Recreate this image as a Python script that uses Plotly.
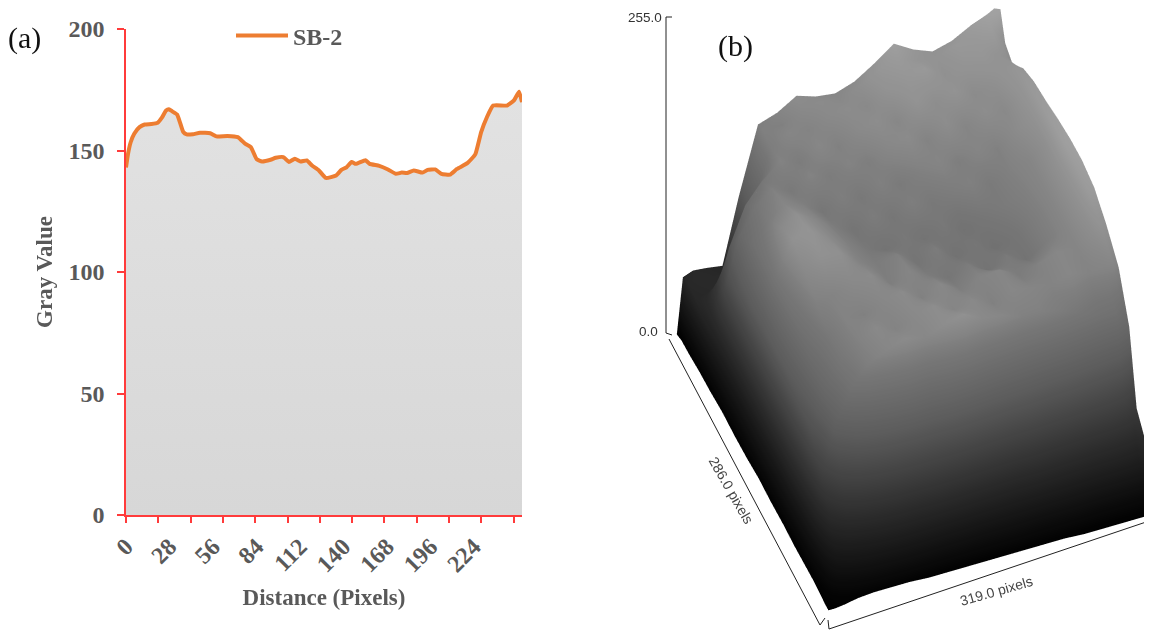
import plotly.graph_objects as go

# Panel (a): gray-value profile
dist = [0,1.3,3,5.3,8.7,12,16.4,20.4,23.1,25.8,27.6,29.8,32.9,34.7,36.9,39.1,43.1,47.6,54.2,58.2,65.3,72,76.9,80.4,84.2,87.6,93.1,96.4,101.3,104.9,108.7,112.4,116.4,119.8,124.2,128.7,135.3,138.7,142,145.3,148,154.2,156.9,163.1,168.7,173.8,177.6,181,185.3,190.9,194.2,199.1,203.1,208.7,213.1,219.8,224.9,228.7,232.4,236.4,245.3,249.8,253.1,255]
gray = [143,148.6,153.4,156.9,159.6,160.7,160.9,161.4,163.5,166.5,167,166.1,164.8,161.7,157.6,156.6,156.7,157.3,157.1,155.8,156,155.5,152.7,151.4,146.4,145.5,146.2,147,147.3,145.3,146.6,145.5,145.9,143.8,141.8,138.7,139.7,142,143.1,145.3,144.5,146,144.5,143.7,142.2,140.4,140.9,140.7,141.8,140.9,142,142.2,140.4,140.1,142.4,144.8,148.4,157.6,163.7,168.5,168.5,170.6,174.2,169.9]
x_labels = [0,28,56,84,112,140,168,196,224]
y_labels = [0,50,100,150,200]
series_name = "SB-2"

# Panel (b): surface heights (gray level) read from the 3D view
surf_x = [0,6,16,29,45,61,80,99,118,137,156,175,195,214,233,252,271,290,306,313,319]
surf_y = [0,9,23,43,63,86,109,132,154,177,200,223,243,257,272,280,286]
surf_z = [
 [0,44,47,46,44,95,148,153,162,157,155,160,170,181,172,166,170,178,183,186,184],
 [2,46,48,47,45,98,150,150,158,160,157,163,172,176,170,168,174,174,178,172,164],
 [2,45,46,48,62,105,147,155,152,158,161,158,168,172,175,165,170,172,168,165,158],
 [3,40,60,95,125,140,152,146,156,150,158,162,156,168,162,168,160,164,170,172,170],
 [3,35,85,120,140,150,143,152,146,152,148,156,160,152,162,154,162,158,168,174,175],
 [4,32,95,130,146,155,150,140,148,142,150,144,150,154,148,154,150,160,166,176,177],
 [3,30,100,135,158,165,156,146,138,146,140,148,142,146,150,144,150,154,164,178,180],
 [3,30,100,140,166,170,160,150,142,136,142,136,142,134,140,144,148,154,166,180,182],
 [4,30,102,136,158,166,165,152,146,150,138,146,134,140,132,138,146,154,166,178,182],
 [3,28,100,130,150,152,158,160,148,154,146,140,146,136,144,136,146,154,165,176,178],
 [3,28,96,124,142,152,150,156,160,150,157,148,153,155,146,151,156,154,162,168,166],
 [2,24,88,118,140,150,158,152,158,162,154,158,150,156,154,152,156,152,154,156,150],
 [2,20,70,108,133,148,155,160,156,162,166,158,156,150,150,146,140,134,132,124,118],
 [2,14,48,72,90,100,108,112,110,114,112,108,104,102,98,96,92,88,82,74,64],
 [1,8,22,32,40,46,50,50,52,50,48,46,44,46,44,42,40,40,38,36,52],
 [0,3,8,14,18,20,22,22,20,20,18,18,18,16,16,16,14,14,14,14,20],
 [0,0,1,3,4,4,4,3,3,3,3,3,3,3,3,2,2,2,2,2,2],
]

# the page puts the figure 8 px in from the top-left corner
OFF = 8
W, H = 1152 - OFF, 630 - OFF
def px(v): return (v - OFF) / W
def py(v): return 1 - (v - OFF) / H

SERIF = "Liberation Serif"
SANS = "Liberation Sans"
TXT = "#595959"
RED = "#FF3B3B"

fig = go.Figure()
fig.add_trace(go.Scatter(
    x=dist, y=gray, mode="none", showlegend=False, fill="tozeroy",
    fillgradient=dict(type="vertical", colorscale=[[0, "#D7D7D7"], [1, "#E2E2E2"]]),
    xaxis="x", yaxis="y", hoverinfo="skip",
))
fig.add_trace(go.Scatter(
    x=dist, y=gray, mode="lines", name=series_name,
    line=dict(color="#ED7D31", width=4, shape="spline", smoothing=0.4),
    xaxis="x", yaxis="y", hoverinfo="skip",
))
fig.add_trace(go.Surface(
    x=surf_x, y=surf_y, z=surf_z, showscale=False, cmin=0, cmax=255,
    colorscale=[[0, "#000000"], [0.2, "#2C2C2C"], [0.4, "#5C5C5C"], [0.55, "#767676"], [0.63, "#8C8C8C"], [0.75, "#A8A8A8"], [1, "#D0D0D0"]],
    lighting=dict(ambient=1, diffuse=0, specular=0, roughness=1, fresnel=0),
    hoverinfo="skip", scene="scene",
))

tick_font = dict(family=SERIF, size=24, color=TXT, weight=700)
title_font = dict(family=SERIF, size=23, color=TXT, weight=700)
fig.update_layout(
    width=W, height=H, autosize=False, margin=dict(l=0, r=0, t=0, b=0, autoexpand=False),
    paper_bgcolor="white", plot_bgcolor="white",
    xaxis=dict(
        domain=[px(126), px(522)], range=[0, 255], tickvals=x_labels, ticktext=[str(v) for v in x_labels],
        tickangle=-45, ticks="", tickfont=tick_font, showgrid=False, zeroline=False, automargin=False,
        showline=True, linecolor=RED, linewidth=2, ticklabelstandoff=6,
        minor=dict(ticks="outside", tick0=0, dtick=20.8, ticklen=6, tickwidth=2, tickcolor=RED, showgrid=False),
        title=dict(text="Distance (Pixels)", font=title_font, standoff=13),
    ),
    yaxis=dict(
        domain=[py(515), py(29)], range=[0, 200], tickvals=y_labels, ticks="outside", ticklen=7, tickwidth=1.5,
        tickcolor=RED, tickfont=tick_font, showgrid=False, zeroline=False, showline=True, automargin=False,
        linecolor=RED, linewidth=1.5, ticklabelstandoff=8,
        title=dict(text="Gray Value", font=title_font, standoff=9),
    ),
    legend=dict(x=px(231), y=py(36), xanchor="left", yanchor="middle", bgcolor="rgba(0,0,0,0)",
                itemwidth=52, font=dict(family=SERIF, size=24, color=TXT, weight=700)),
    showlegend=True,
    scene=dict(
        domain=dict(x=[px(600), 1], y=[0, 1]),
        xaxis=dict(visible=False), yaxis=dict(visible=False, autorange="reversed"),
        zaxis=dict(visible=False, range=[0, 255]),
        aspectmode="manual", aspectratio=dict(x=1.19, y=1.4, z=1.5),
        bgcolor="rgba(0,0,0,0)",
        camera=dict(projection=dict(type="orthographic"),
                    up=dict(x=0, y=0, z=1),
                    center=dict(x=-0.133, y=0, z=-0.2),
                    eye=dict(x=-0.487, y=-0.889, z=0.807)),
    ),
)

def note(text, x, y, size, family=SERIF, color="#111111", angle=0, weight=400):
    fig.add_annotation(text=text, x=px(x), y=py(y), xref="paper", yref="paper", showarrow=False,
                       textangle=angle, xanchor="center", yanchor="middle",
                       font=dict(family=family, size=size, color=color, weight=weight))

note("(a)", 24, 38, 30)
note("(b)", 735, 46, 30)
note("255.0", 645, 18, 13.5, SANS, "#333333")
note("0.0", 648, 331, 13.5, SANS, "#333333")
note("286.0 pixels", 731, 490, 14, SANS, "#444444", 60)
note("319.0 pixels", 996, 591, 14, SANS, "#444444", -16)

for x0, y0, x1, y1 in [(672,17,666,17),(666,17,666,333),(666,333,672,335),
                       (669,339,820,625),(820,625,825,618),
                       (828,620,829,629),(829,629,1152,520)]:
    fig.add_shape(type="line", xref="paper", yref="paper", x0=px(x0), y0=py(y0), x1=px(x1), y1=py(y1),
                  line=dict(color="#222222", width=1))

fig.write_html("out.html")
